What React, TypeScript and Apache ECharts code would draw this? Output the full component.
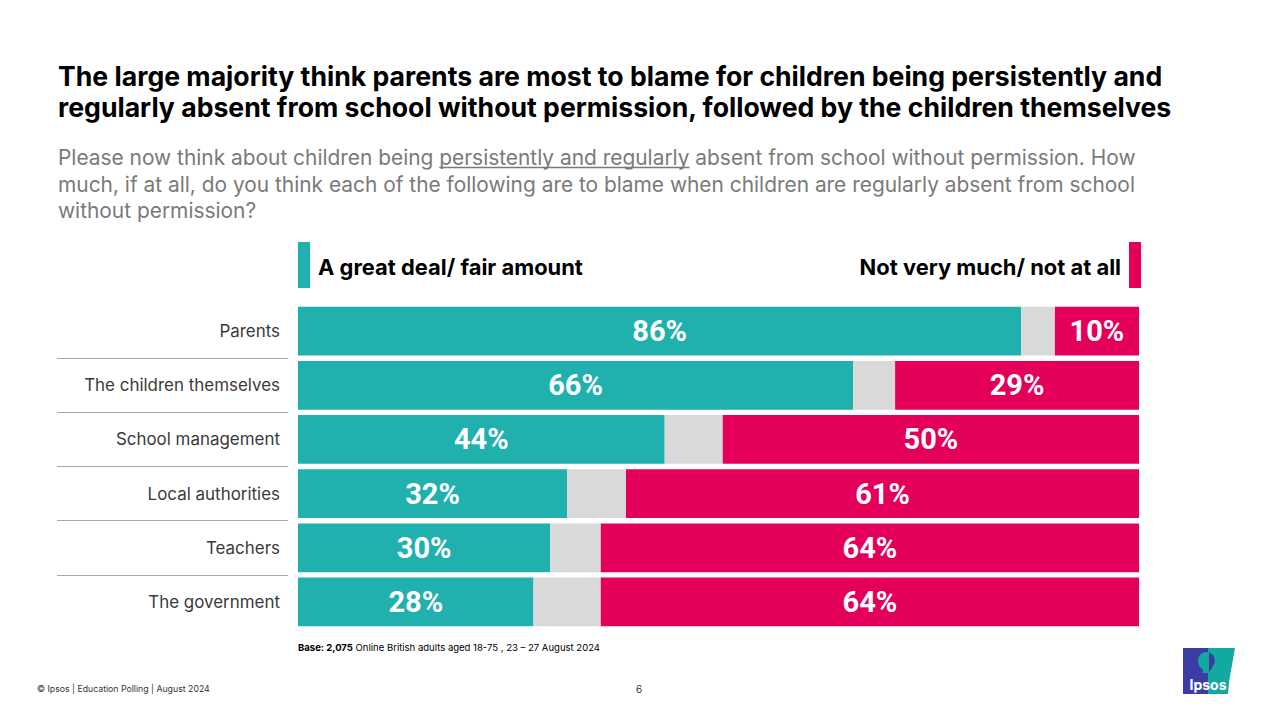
import React, { useEffect, useRef } from "react";
import * as echarts from "echarts";

const categories = [
  "Parents",
  "The children themselves",
  "School management",
  "Local authorities",
  "Teachers",
  "The government",
];
const greatDeal = [86, 66, 43.6, 32, 30, 28];
const dontKnow = [4, 5, 6.9, 7, 6, 8];
const notMuch = [10, 29, 49.5, 61, 64, 64];

const titleLines = [
  "The large majority think parents are most to blame for children being persistently and",
  "regularly absent from school without permission, followed by the children themselves",
];
const subPre = "Please now think about children being ";
const subUnder = "persistently and regularly";
const subPost = " absent from school without permission. How";
const subLines = [
  "much, if at all, do you think each of the following are to blame when children are regularly absent from school",
  "without permission?",
];
const legendLeft = "A great deal/ fair amount";
const legendRight = "Not very much/ not at all";
const baseBold = "Base: 2,075";
const baseRest = " Online British adults aged 18-75 , 23 – 27 August 2024";
const footerText = "© Ipsos | Education Polling | August 2024";

const TEAL = "#20B0AE";
const RED = "#E4005A";
const GREY = "#D9D9D9";
const FONT = "Inter, Roboto, sans-serif";

function measure(text: string, font: string): number {
  const c = document.createElement("canvas");
  const ctx = c.getContext("2d");
  if (!ctx) return text.length * 10;
  ctx.font = font;
  return ctx.measureText(text).width;
}
function fit(text: string, weight: string, target: number, family = "Inter"): number {
  const w = measure(text, `${weight} 24px ${family}`);
  return w > 0 ? (24 * target) / w : 24;
}

export default function App() {
  const ref = useRef<HTMLDivElement>(null);
  useEffect(() => {
    document.body.style.margin = "0";
    if (!ref.current) return;
    const chart = echarts.init(ref.current, null, { renderer: "svg" });

    const titleSize = fit(titleLines[0], "bold", 1105);
    const subSize = fit(subPre + subUnder + subPost, "normal", 1078);
    const subFont = `normal ${subSize}px Inter`;
    const preW = measure(subPre, subFont);
    const underW = measure(subUnder, subFont);
    const legSize = fit(legendLeft, "bold", 265);
    const catSize = fit("The children themselves", "normal", 196);
    const barLabelSize = Math.min(29, fit("86%", "bold", 57, "Roboto"));
    const baseSize = fit(baseBold + baseRest, "normal", 300);
    const footSize = fit(footerText, "normal", 173);
    const subX = 58;

    const label = (show: boolean) => ({
      show,
      position: "inside",
      color: "#ffffff",
      fontFamily: "Roboto, Inter, sans-serif",
      fontWeight: "bold",
      fontSize: barLabelSize,
      formatter: (p: any) => Math.round(p.value) + "%",
    });

    const option: any = {
      animation: false,
      textStyle: { fontFamily: FONT },
      grid: [
        { left: 298, top: 304, width: 841, height: 325 },
        { left: 57, top: 304, width: 231, height: 325 },
      ],
      xAxis: [
        { type: "value", min: 0, max: 100, show: false, gridIndex: 0 },
        { type: "value", min: 0, max: 100, show: false, gridIndex: 1 },
      ],
      yAxis: [
        {
          type: "category",
          data: categories,
          inverse: true,
          gridIndex: 0,
          axisLine: { show: false },
          axisTick: { show: false },
          splitLine: { show: false },
          axisLabel: {
            fontFamily: FONT,
            fontSize: catSize,
            color: "#3a3a3a",
            margin: 18,
          },
        },
        {
          type: "category",
          data: categories,
          inverse: true,
          gridIndex: 1,
          axisLine: { show: false },
          axisTick: { show: false },
          axisLabel: { show: false },
          splitLine: {
            show: true,
            showMinLine: false,
            showMaxLine: false,
            lineStyle: { color: "#a6a6a6", width: 1 },
          },
        },
      ],
      series: [
        {
          name: legendLeft,
          type: "bar",
          stack: "s",
          data: greatDeal,
          itemStyle: { color: TEAL },
          barCategoryGap: "10%",
          label: label(true),
        },
        {
          name: "Don't know",
          type: "bar",
          stack: "s",
          data: dontKnow,
          itemStyle: { color: GREY },
          label: label(false),
        },
        {
          name: legendRight,
          type: "bar",
          stack: "s",
          data: notMuch,
          itemStyle: { color: RED },
          label: label(true),
        },
      ],
      graphic: [
        ...titleLines.map((t, i) => ({
          type: "text",
          x: 58,
          y: 76 + i * 31,
          style: {
            text: t,
            fontFamily: FONT,
            fontWeight: "bold",
            fontSize: titleSize,
            fill: "#000000",
            verticalAlign: "middle",
          },
        })),
        {
          type: "text",
          x: subX,
          y: 157,
          style: {
            text: subPre + subUnder + subPost,
            fontFamily: FONT,
            fontSize: subSize,
            fill: "#7a7a7a",
            verticalAlign: "middle",
          },
        },
        {
          type: "line",
          shape: { x1: subX + preW, y1: 167.5, x2: subX + preW + underW, y2: 167.5 },
          style: { stroke: "#7a7a7a", lineWidth: 1.3 },
        },
        ...subLines.map((t, i) => ({
          type: "text",
          x: subX,
          y: 184 + i * 26.5,
          style: {
            text: t,
            fontFamily: FONT,
            fontSize: subSize,
            fill: "#7a7a7a",
            verticalAlign: "middle",
          },
        })),
        // legend
        { type: "rect", shape: { x: 298, y: 242, width: 12, height: 46 }, style: { fill: TEAL } },
        {
          type: "text",
          x: 318,
          y: 267,
          style: {
            text: legendLeft,
            fontFamily: FONT,
            fontWeight: "bold",
            fontSize: legSize,
            fill: "#000",
            verticalAlign: "middle",
          },
        },
        { type: "rect", shape: { x: 1129, y: 242, width: 12, height: 46 }, style: { fill: RED } },
        {
          type: "text",
          x: 1121,
          y: 267,
          style: {
            text: legendRight,
            fontFamily: FONT,
            fontWeight: "bold",
            fontSize: legSize,
            fill: "#000",
            align: "right",
            verticalAlign: "middle",
          },
        },
        // base
        {
          type: "text",
          x: 298,
          y: 647,
          style: {
            text: "{b|" + baseBold + "}" + baseRest,
            fontFamily: FONT,
            fontSize: baseSize,
            fill: "#000",
            verticalAlign: "middle",
            rich: {
              b: { fontFamily: FONT, fontSize: baseSize, fontWeight: "bold", fill: "#000" },
            },
          },
        },
        // footer
        {
          type: "text",
          x: 37,
          y: 689,
          style: {
            text: footerText,
            fontFamily: FONT,
            fontSize: footSize,
            fill: "#333",
            verticalAlign: "middle",
          },
        },
        {
          type: "text",
          x: 639,
          y: 689,
          style: {
            text: "6",
            fontFamily: FONT,
            fontSize: 10,
            fill: "#333",
            align: "center",
            verticalAlign: "middle",
          },
        },
        // logo
        {
          type: "polygon",
          shape: { points: [[1183, 648], [1209, 648], [1209, 694], [1183, 694]] },
          style: { fill: "#3B3DA5" },
        },
        {
          type: "polygon",
          shape: {
            points: [[1208, 648], [1235, 648], [1232, 665], [1229, 682], [1228, 694], [1208, 694]],
          },
          style: { fill: "#12AAA0" },
        },
        { type: "ellipse", shape: { cx: 1206, cy: 661, rx: 8, ry: 9 }, style: { fill: "#12AAA0" } },
        { type: "rect", shape: { x: 1203, y: 666, width: 7, height: 7 }, style: { fill: "#12AAA0" } },
        {
          type: "polygon",
          shape: { points: [[1209, 652], [1214, 656], [1215, 662], [1212, 668], [1209, 672]] },
          style: { fill: "#3B3DA5" },
        },
        {
          type: "text",
          x: 1208,
          y: 684,
          style: {
            text: "Ipsos",
            fontFamily: FONT,
            fontWeight: "bold",
            fontSize: 14,
            fill: "#fff",
            align: "center",
            verticalAlign: "middle",
          },
        },
      ],
    };
    chart.setOption(option);
    return () => chart.dispose();
  }, []);
  return <div ref={ref} style={{ width: 1280, height: 720 }} />;
}
